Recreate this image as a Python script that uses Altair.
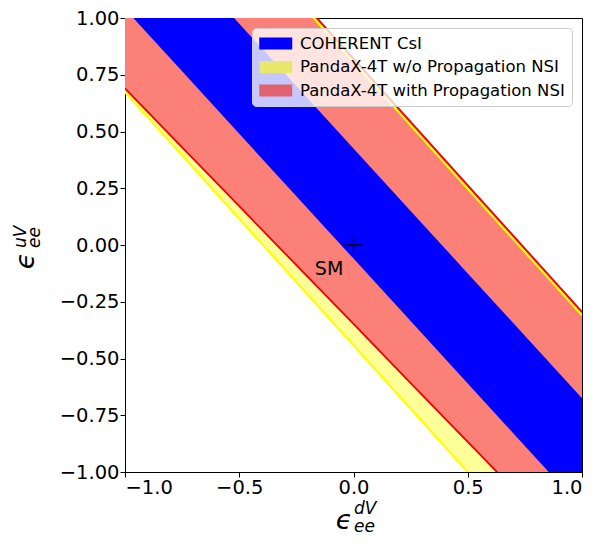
import altair as alt
import pandas as pd

# ---- data ----
x_grid = [-1.0, -0.75, -0.5, -0.25, 0.0, 0.25, 0.5, 0.75, 1.0]
blue_lo = [1.04, 0.765, 0.49, 0.215, -0.06, -0.335, -0.61, -0.885, -1.16]
blue_hi = [1.525, 1.25, 0.975, 0.70, 0.425, 0.15, -0.125, -0.40, -0.675]
red_lo = [0.69, 0.43, 0.171, -0.089, -0.348, -0.608, -0.867, -1.127, -1.386]
red_hi = [1.937, 1.658, 1.379, 1.100, 0.821, 0.542, 0.263, -0.016, -0.295]
yel_lo = [0.674, 0.395, 0.116, -0.163, -0.442, -0.721, -1.0, -1.279, -1.558]
yel_hi = [1.922, 1.643, 1.364, 1.085, 0.806, 0.527, 0.248, -0.031, -0.31]

x_ticks = [-1.0, -0.5, 0.0, 0.5, 1.0]
y_ticks = [-1.0, -0.75, -0.5, -0.25, 0.0, 0.25, 0.5, 0.75, 1.0]

series_names = ["COHERENT CsI", "PandaX-4T w/o Propagation NSI", "PandaX-4T with Propagation NSI"]
legend_colors = ["#0000ff", "#e8e86c", "#e0626e"]

sm_point = {"x": [0.0], "y": [0.0]}
sm_label = {"x": [-0.107], "y": [-0.105], "t": ["SM"]}

x_title = ["ϵ", "dV", "ee"]
y_title = ["ϵ", "uV", "ee"]

df = pd.DataFrame({
    "x": x_grid, "blue_lo": blue_lo, "blue_hi": blue_hi,
    "red_lo": red_lo, "red_hi": red_hi, "yel_lo": yel_lo, "yel_hi": yel_hi,
})

FONT = "DejaVu Sans"
xs = alt.Scale(domain=[-1, 1], nice=False, zero=False)
ys = alt.Scale(domain=[-1, 1], nice=False, zero=False)
xax = alt.Axis(values=x_ticks, format=".1f", title=None, grid=False)
yax = alt.Axis(values=y_ticks, format=".2f", title=None, grid=False)

X = alt.X("x:Q", scale=xs, axis=xax)
base = alt.Chart(df)

yellow_area = base.mark_area(clip=True, color="#ffff99", opacity=1).encode(
    X, y=alt.Y("yel_lo:Q", scale=ys, axis=yax), y2="yel_hi:Q")
red_area = base.mark_area(clip=True, color="#fa8078", opacity=1).encode(
    X, y=alt.Y("red_lo:Q", scale=ys), y2="red_hi:Q")
blue_area = base.mark_area(clip=True, color="#0000ff", opacity=1).encode(
    X, y=alt.Y("blue_lo:Q", scale=ys), y2="blue_hi:Q")

def line(field, color, w):
    return base.mark_line(clip=True, color=color, strokeWidth=w).encode(
        X, y=alt.Y(f"{field}:Q", scale=ys))

lines = [line("yel_lo", "#ffff00", 2.2), line("yel_hi", "#ffff00", 2.2),
         line("red_lo", "#ee0000", 1.8), line("red_hi", "#ee0000", 1.8)]

cross = alt.Chart(pd.DataFrame(sm_point)).mark_point(
    shape="M-1,0H1M0,-1V1", size=300, stroke="black", strokeWidth=1.3, filled=False, opacity=1
).encode(x=alt.X("x:Q", scale=xs), y=alt.Y("y:Q", scale=ys))

sm_text = alt.Chart(pd.DataFrame(sm_label)).mark_text(
    font=FONT, fontSize=19, color="black", align="center", baseline="middle"
).encode(x=alt.X("x:Q", scale=xs), y=alt.Y("y:Q", scale=ys), text="t:N")

leg_df = pd.DataFrame({"series": series_names, "x": [5, 5, 5], "y": [5, 5, 5]})
legend_layer = alt.Chart(leg_df).mark_square(clip=True, size=10, opacity=1).encode(
    x=alt.X("x:Q", scale=xs), y=alt.Y("y:Q", scale=ys),
    color=alt.Color("series:N", scale=alt.Scale(domain=series_names, range=legend_colors),
                    legend=alt.Legend(
                        title=None, orient="none", legendX=127, legendY=10,
                        direction="vertical",
                        symbolType="M-1,-0.73H3V0.73H-1Z", symbolSize=272,
                        symbolStrokeWidth=0, symbolOpacity=1,
                        labelFont=FONT, labelFontSize=16.5, labelColor="black",
                        labelLimit=500, labelOffset=24, rowPadding=6.5, padding=7,
                        fillColor="rgba(255,255,255,0.78)", strokeColor="#cccccc",
                        cornerRadius=4)))

def txt(s, x, y, size, angle=0, align="left", baseline="alphabetic"):
    return alt.Chart(pd.DataFrame({"t": [s]})).mark_text(
        font=FONT, fontSize=size, fontStyle="italic", color="black",
        align=align, baseline=baseline, angle=angle
    ).encode(x=alt.value(x), y=alt.value(y), text="t:N")

titles = [
    txt(x_title[0], 219, 511, 27, align="center"),
    txt(x_title[1], 229, 496, 17),
    txt(x_title[2], 229, 514, 17),
    txt(y_title[0], -91, 243, 27, angle=270, align="center"),
    txt(y_title[1], -99, 230, 17, angle=270),
    txt(y_title[2], -85, 230, 17, angle=270),
]

chart = alt.layer(yellow_area, red_area, blue_area, *lines, cross, sm_text, legend_layer, *titles).properties(
    width=457, height=454,
    autosize=alt.AutoSizeParams(type="none"),
    padding={"left": 117, "top": 10, "right": 12, "bottom": 65},
).configure_view(stroke="black", strokeWidth=1).configure_axis(
    domainColor="black", tickColor="black", tickSize=5, tickWidth=1,
    labelFont=FONT, labelFontSize=19.5, labelColor="black", labelPadding=1,
)

chart.save("out.html", embed_options={"renderer": "svg", "actions": False})
